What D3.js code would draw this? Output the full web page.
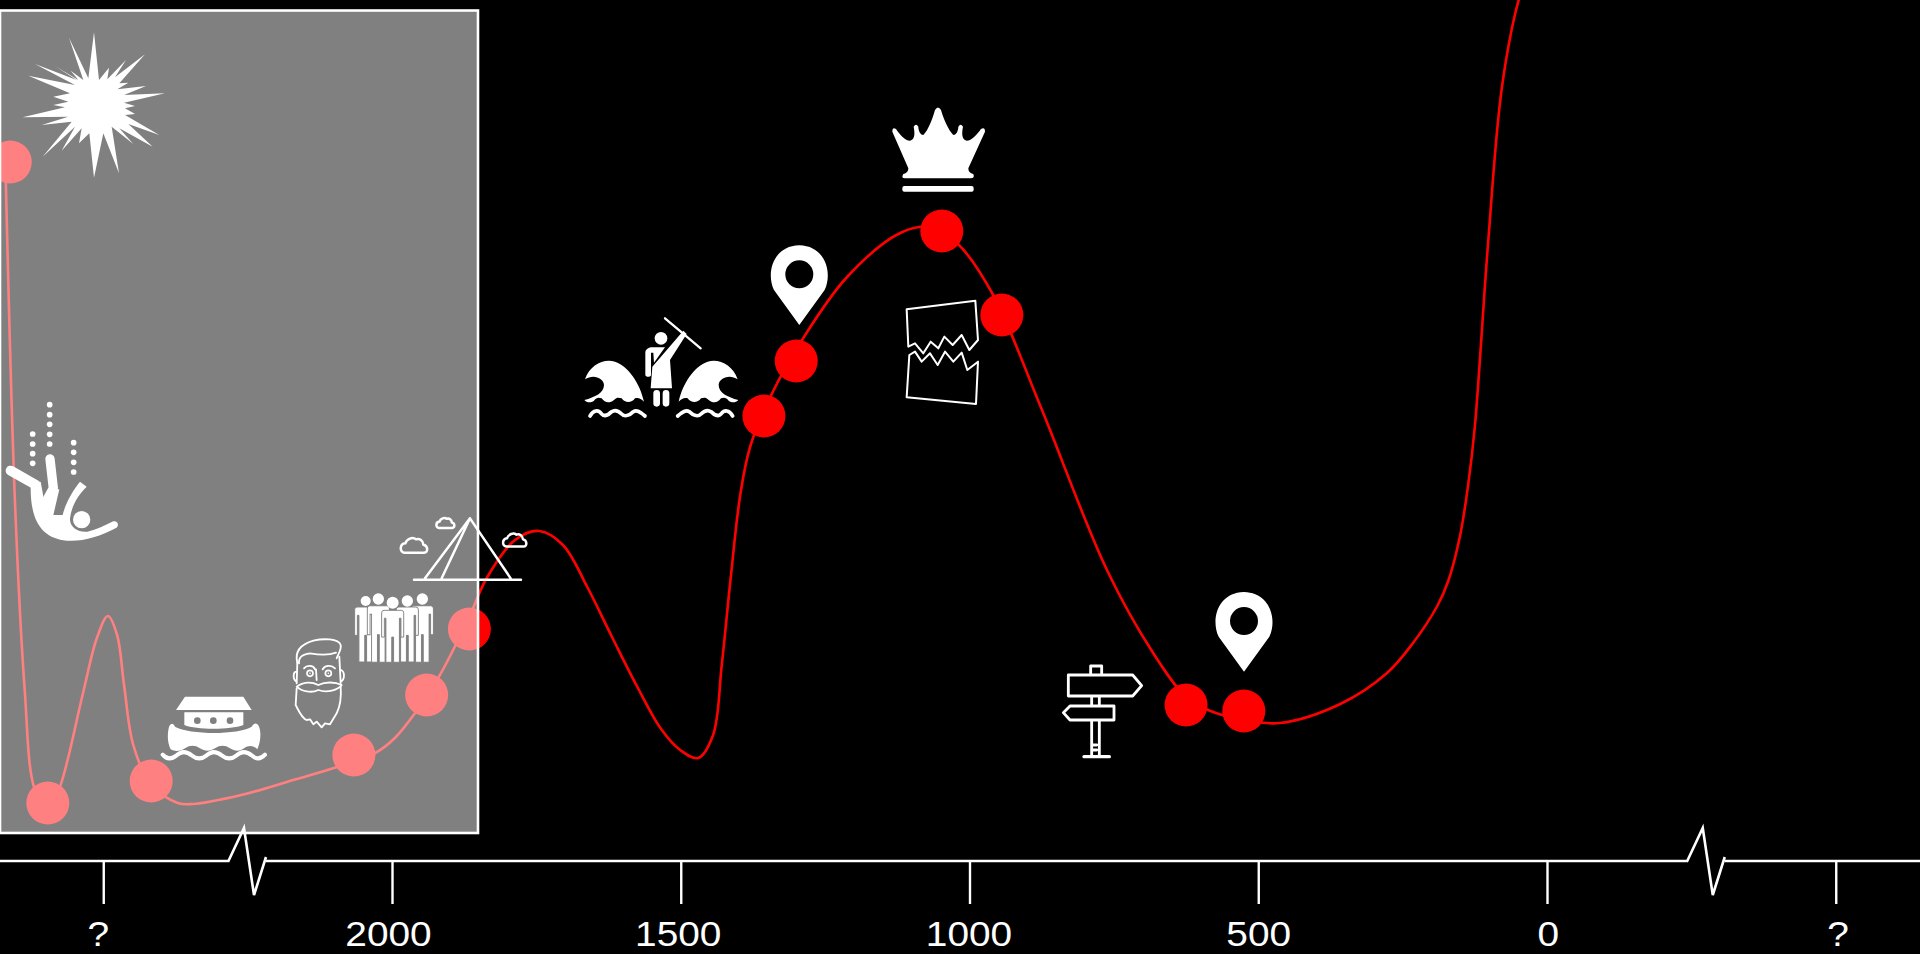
<!DOCTYPE html>
<html>
<head>
<meta charset="utf-8">
<script src="https://cdn.jsdelivr.net/npm/d3@7"></script>
<style>
    html, body { margin: 0; background: #000; overflow: hidden; }
    svg { display: block; }
</style>
</head>
<body>
<div id="timeline"></div>
<script>
// the curve: year BC against an unitless height
var curveYears = [2670, 2653, 2636, 2620, 2597, 2575, 2535, 2511, 2492, 2476, 2464, 2448, 2417, 2371, 2345, 2261, 2171, 2095,
    2029, 1995, 1960, 1919, 1867, 1836, 1787, 1745, 1704, 1661, 1619, 1576, 1534, 1501, 1470, 1444, 1429, 1413, 1397, 1380, 1345, 1290,
    1212, 1120, 1068, 1020, 959, 878, 762, 682, 625, 587, 525, 462, 358, 277, 232, 190, 171, 151, 137, 125, 102, 78, 49, 30];
var curveHeights = [700, 350, 160, 63, 38, 63, 157, 212, 234, 215, 165, 105, 65, 47, 46, 55, 70, 83,
    97, 112, 137, 173, 232, 272, 310, 319, 305, 262, 213, 164, 121, 100, 92, 115, 185, 275, 355, 403, 453, 510,
    573, 617, 623, 606, 555, 445, 280, 197, 153, 140, 130, 127, 146, 177, 207, 244, 269, 313, 363, 423, 607, 763, 850, 880];

// the events marked on the curve
var eventYears = [2661, 2596, 2417, 2066, 1940, 1866, 1356, 1300, 1048, 944, 625, 525];
var eventHeights = [688, 47, 69, 95, 155, 221, 434, 489, 619, 535, 145, 139];

var tickYears = [2500, 2000, 1500, 1000, 500, 0, -500];
var tickLabels = ["?", "2000", "1500", "1000", "500", "0", "?"];
var breakYears = [2284, -242];

var width = 1920, height = 954;

var svg = d3.select("#timeline")
    .append("svg")
    .attr("width", width)
    .attr("height", height);

var x = d3.scaleLinear().domain([2500, -500]).range([103.25, 1835.75]);
var y = d3.scaleLinear().domain([0, 850]).range([850, 0]);

// Curve and event dots
svg.append("path")
    .datum(d3.zip(curveYears, curveHeights))
    .attr("fill", "none")
    .attr("stroke", "#f00")
    .attr("stroke-width", 2.6)
    .attr("d", d3.line()
        .curve(d3.curveCatmullRom.alpha(0.5))
        .x(function(d) { return x(d[0]); })
        .y(function(d) { return y(d[1]); }));

svg.selectAll(".event")
    .data(d3.zip(eventYears, eventHeights))
    .enter()
    .append("circle")
    .attr("class", "event")
    .attr("cx", function(d) { return x(d[0]); })
    .attr("cy", function(d) { return y(d[1]); })
    .attr("r", 21.5)
    .attr("fill", "#f00");

// Axis, the domain line is drawn by hand because of the two breaks
var axisY = 861;
var nudge = [-5.5, -4, -3, -1, 0, 0.7, 1.7];
var axis = svg.append("g")
    .attr("transform", "translate(0," + axisY + ")")
    .call(d3.axisBottom(x)
        .tickValues(tickYears)
        .tickSize(43)
        .tickFormat(function(d, i) { return tickLabels[i]; }));
axis.select(".domain").remove();
axis.selectAll(".tick line").attr("stroke", "#fff").attr("stroke-width", 2.4);
axis.selectAll(".tick text")
    .attr("fill", "#fff")
    .attr("font-family", "'Liberation Sans', Arial, sans-serif")
    .attr("font-size", 35)
    .attr("y", 85.5)
    .attr("dy", 0)
    .attr("transform", function(d, i) { return "translate(" + nudge[i] + ",0) scale(1.11,1)"; });

var x0 = x(breakYears[0]), x1 = x(breakYears[1]);
var axisLine = "M0,0H" + x0 + " M" + (x0 + 38) + ",0H" + x1 + " M" + (x1 + 38) + ",0H" + width;
axis.append("path")
    .attr("d", axisLine)
    .attr("fill", "none")
    .attr("stroke", "#fff")
    .attr("stroke-width", 2.6);
axis.selectAll(".zigzag")
    .data(breakYears)
    .enter()
    .append("path")
    .attr("class", "zigzag")
    .attr("transform", function(d) { return "translate(" + x(d) + ",0)"; })
    .attr("d", "M0,1L16,-33L26,34L38,-4")
    .attr("fill", "none")
    .attr("stroke", "#fff")
    .attr("stroke-width", 2.6);

// Icons, paths traced at 3x so each group is scaled down by a third
function icon(left, top) {
    return svg.append("g")
        .attr("transform", "translate(" + left + "," + top + ") scale(0.33333)")
        .attr("fill", "#fff")
        .attr("stroke", "none");
}

function outline(g, d, w) {
    return g.append("path").attr("d", d).attr("fill", "none")
        .attr("stroke", "#fff").attr("stroke-width", w || 6)
        .attr("stroke-linejoin", "round").attr("stroke-linecap", "round");
}

// burst
icon(0, 0).append("path").attr("d", "M282,97L297,240L327,203L322,238L378,180L345,232L435,163L358,250L385,248L352,268L438,258L372,285L495,280L372,308L405,318L375,325L405,342L375,345L478,405L385,372L458,440L358,385L400,432L335,380L357,520L310,400L282,533L268,400L237,430L245,385L185,452L225,380L128,470L215,365L125,375L205,350L68,352L195,322L160,315L205,305L160,290L210,280L85,227L225,255L105,192L230,240L165,198L235,240L212,212L250,240L207,113L265,235Z");

// falling figure
var fall = icon(0, 390);
[[98, 132], [98, 162], [98, 191], [98, 220], [149, 44], [149, 74], [149, 103], [149, 133], [149, 162],
    [221, 158], [221, 187], [221, 217], [221, 246]].forEach(function(p) {
    fall.append("circle").attr("cx", p[0]).attr("cy", p[1]).attr("r", 8.5);
});
fall.append("path").attr("d", "M92,285L122,275L132,330L152,300L178,298L160,375L188,375C195,345 215,305 240,275L260,290C235,315 215,345 210,385C208,412 235,428 262,425C290,420 315,405 340,394C355,392 358,408 348,414C300,440 250,455 200,452C130,445 90,400 92,285Z");
outline(fall, "M32,242L108,285", 30);
outline(fall, "M150,207L160,295L138,335", 28);
fall.append("circle").attr("cx", 245).attr("cy", 389).attr("r", 26);

// ark
var ark = icon(150, 680);
ark.append("path").attr("d", "M105,50L280,50L305,90L78,90Z");
ark.append("path").attr("fill-rule", "evenodd").attr("d", "M103,97L280,97L280,135C240,150 140,150 103,135Z"
    + "M132,122a10,10 0 1,0 20,0a10,10 0 1,0 -20,0M180,122a10,10 0 1,0 20,0a10,10 0 1,0 -20,0M230,122a10,10 0 1,0 20,0a10,10 0 1,0 -20,0Z");
ark.append("path").attr("d", "M55,150C58,130 68,125 75,140C120,165 265,165 305,140C315,125 325,128 330,150C333,170 330,190 322,208C310,195 295,195 282,205C270,215 255,215 240,205C225,195 210,195 195,205C180,215 165,215 150,205C135,195 120,195 105,205C90,215 75,215 62,208C53,190 52,170 55,150Z");
outline(ark, "M38,224C50,238 65,238 80,226C95,212 110,214 125,226C140,238 155,238 170,226C185,212 200,214 215,226C230,238 245,238 260,226C275,212 290,214 305,226C318,238 332,238 345,224", 12);

// bearded man
var man = icon(280, 630);
outline(man, "M52,98C45,70 55,45 100,32C130,25 175,25 182,45C185,60 175,70 170,85", 5.5);
outline(man, "M57,100C55,80 70,72 90,70C120,75 150,75 168,68", 5.5);
outline(man, "M52,98L50,160M50,125C38,125 38,150 50,155M183,120C195,125 195,150 182,155M178,80L182,160", 5.5);
outline(man, "M72,115C80,105 100,105 105,118M128,118C135,105 155,105 165,115M108,118L110,150", 5.5);
man.append("circle").attr("cx", 90).attr("cy", 130).attr("r", 9).attr("fill", "none").attr("stroke", "#fff").attr("stroke-width", 5);
man.append("circle").attr("cx", 145).attr("cy", 130).attr("r", 9).attr("fill", "none").attr("stroke", "#fff").attr("stroke-width", 5);
man.append("circle").attr("cx", 90).attr("cy", 130).attr("r", 2.5);
man.append("circle").attr("cx", 145).attr("cy", 130).attr("r", 2.5);
outline(man, "M50,170C70,155 95,155 115,165C135,155 165,155 185,165C175,180 140,190 115,180C95,190 65,185 50,170Z", 5.5);
outline(man, "M50,175L47,225C55,240 65,265 80,270L90,268L100,283L110,275L125,292L135,280L150,283L170,250C180,230 185,210 182,170", 5.5);

// crowd, back figures first
var crowd = icon(345, 585);
var personBody = "M-28,0H28Q36,0 36,8V85H27V25H22V165H3V85H-3V165H-22V25H-27V85H-36V8Q-36,0 -28,0Z";
[[62, 48, 15, 66, 1], [232, 42, 17, 62, 1.03], [100, 42, 17, 62, 1.03], [187, 48, 17, 66, 1], [143, 53, 18, 76, 0.945]].forEach(function(p) {
    crowd.append("path").attr("d", personBody)
        .attr("transform", "translate(" + p[0] + "," + p[3] + ") scale(0.92," + p[4] + ")")
        .attr("stroke", "#000").attr("stroke-width", 3);
    crowd.append("circle").attr("cx", p[0]).attr("cy", p[1]).attr("r", p[2]);
});

// pyramid and clouds
var pyramid = icon(390, 505);
outline(pyramid, "M72,224H393M105,220L240,40L362,220M155,220L240,40", 7.5);
var cloud = "M12,48C-4,48 -4,22 14,20C18,6 36,0 46,8C56,4 68,12 68,24C82,26 84,48 70,48Z";
[[32, 95, 1], [139, 36, 0.68], [339, 82, 0.88]].forEach(function(p) {
    outline(pyramid, cloud, 7.5 / p[2])
        .attr("transform", "translate(" + p[0] + "," + p[1] + ") scale(" + p[2] + ")");
});

// parting of the sea
var sea = icon(570, 310);
var wave = "M45,208C60,165 100,145 135,155C175,168 210,220 222,275C212,265 205,262 195,265C185,280 165,280 155,265C145,262 140,262 132,270C120,280 105,280 95,265C85,262 80,262 72,272C62,280 50,278 43,270C75,262 102,248 102,225C102,205 70,190 45,208Z";
var ripple = "M60,318C70,300 85,298 95,312C105,322 115,315 125,305C135,298 145,302 155,312C165,322 180,315 190,305C200,298 210,305 225,318";
sea.append("path").attr("d", wave);
outline(sea, ripple, 11);
var mirrored = sea.append("g").attr("transform", "translate(548,0) scale(-1,1)");
mirrored.append("path").attr("d", wave);
outline(mirrored, ripple, 11);
outline(sea, "M285,25L392,115", 7);
sea.append("circle").attr("cx", 273).attr("cy", 85).attr("r", 19);
sea.append("path").attr("d", "M340,62L350,72L300,150L306,235L242,235L247,170Z");
sea.append("path").attr("d", "M248,112H285L252,158L250,128H243V195C243,202 226,202 226,195V128C226,118 236,112 248,112Z");
outline(sea, "M260,250V280M288,250V280", 20);

// map pins, origin at the tip
[[799.3, 325], [1244, 671.7]].forEach(function(p) {
    icon(p[0], p[1]).append("path")
        .attr("fill-rule", "evenodd")
        .attr("d", "M0,0L-76,-105C-100,-155 -80,-237 0,-239C80,-237 100,-155 76,-105Z"
            + "M-42,-152a42,42 0 1,0 84,0a42,42 0 1,0 -84,0Z");
});

// crown and torn paper share a crop
var crown = icon(560, 80);
crown.append("path").attr("d", "M1125,90Q1134,75 1143,90C1150,115 1165,150 1180,165C1190,165 1195,150 1195,140Q1202,128 1209,140C1205,160 1205,178 1220,182C1235,182 1250,165 1263,147Q1275,140 1275,155L1225,265C1225,275 1230,280 1240,282Q1245,295 1232,295L1035,295Q1022,295 1030,282C1040,280 1045,275 1045,265L997,155Q997,140 1008,147C1020,165 1035,182 1050,182C1065,178 1065,160 1061,140Q1068,128 1075,140C1075,150 1080,165 1090,165C1105,150 1118,115 1125,90Z");
crown.append("rect").attr("x", 1027).attr("y", 318).attr("width", 214).attr("height", 17).attr("rx", 6);
outline(crown, "M1040,688L1246,662L1254,780L1228,810L1205,765L1178,795L1153,770L1135,805L1112,785L1090,820L1065,790L1045,800Z", 6);
outline(crown, "M1048,825L1065,815L1085,845L1110,820L1133,855L1155,815L1180,845L1205,818L1222,870L1254,845L1248,972L1040,952Z", 6);

// signpost
var sign = icon(1040, 570);
outline(sign, "M85,315H278L305,347L278,378H85ZM152,315V288H185V315M222,408H90L70,428L90,450H222ZM155,378V408M178,378V408M155,450V560M178,450V560M160,525H170M160,540H170", 8.5);
outline(sign, "M132,560H208", 10);

// Shaded span over the first part of the curve
svg.append("rect")
    .attr("x", 0)
    .attr("y", 10.5)
    .attr("width", 478)
    .attr("height", 822.5)
    .attr("fill", "#fff")
    .attr("fill-opacity", 0.5)
    .attr("stroke", "#fff")
    .attr("stroke-width", 2.6);
</script>
</body>
</html>
